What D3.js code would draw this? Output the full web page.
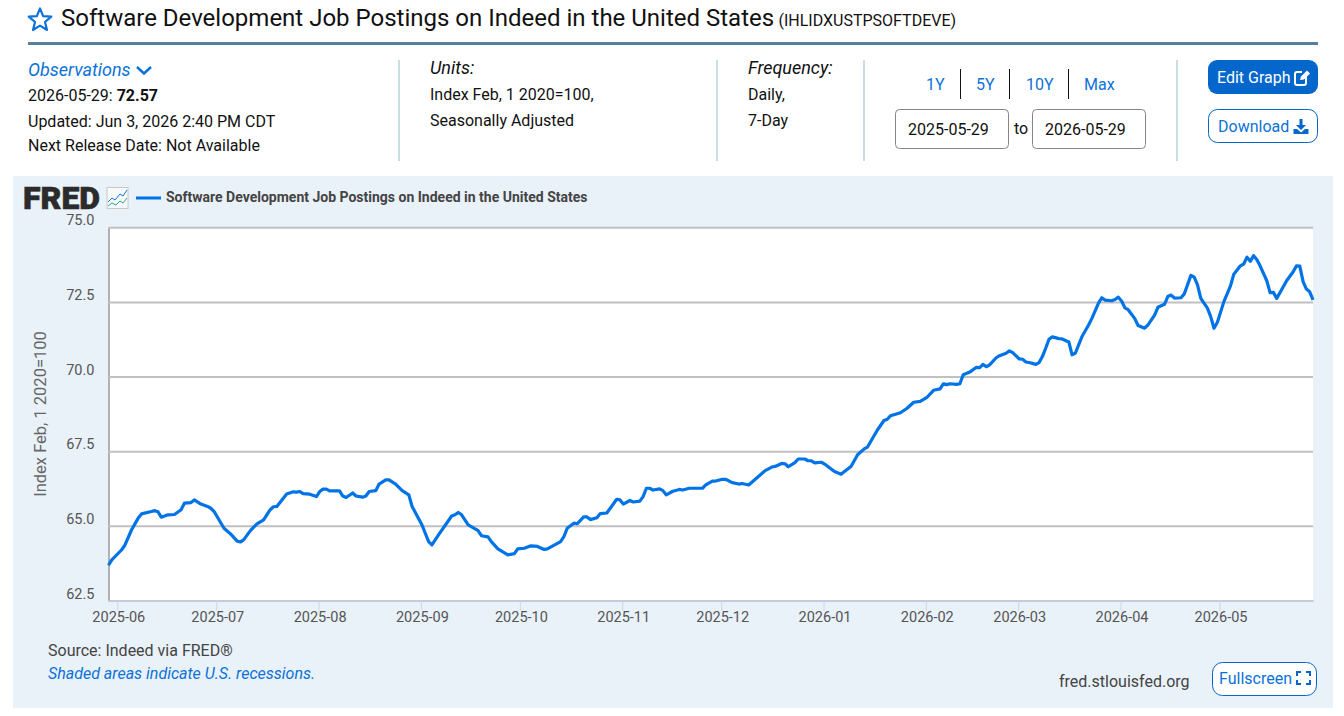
<!DOCTYPE html>
<html>
<head>
<meta charset="utf-8">
<title>Software Development Job Postings on Indeed in the United States</title>
<script src="https://cdn.jsdelivr.net/npm/d3@7"></script>
<style>
html,body{margin:0;padding:0;background:#fff;overflow:hidden;}
svg{display:block;}
text{font-family:Roboto,sans-serif;}
</style>
</head>
<body>
<script>
// days since 2025-05-29
var obsDay = [0,1,4,5,7,9,10,13,14,15,16,18,20,22,23,25,26,28,30,31,32,35,37,39,40,41,43,44,45,47,49,50,51,54,56,57,58,59,61,63,64,65,66,67,70,71,72,74,75,77,78,79,81,82,84,85,87,89,91,92,95,97,98,100,104,105,106,107,109,112,113,115,116,118,121,123,124,126,128,130,132,133,137,138,139,141,142,144,145,146,148,149,151,154,155,156,158,159,161,162,163,164,165,167,168,169,171,173,174,176,180,181,183,184,186,187,189,191,192,194,196,199,201,202,204,205,206,208,209,211,212,213,214,216,217,218,220,222,223,225,227,229,230,233,235,236,237,240,242,244,246,248,250,252,253,254,255,257,258,259,261,263,264,265,266,267,269,270,272,273,274,276,277,278,279,281,282,283,284,285,286,288,289,291,292,293,295,297,298,300,301,302,304,305,306,307,308,309,311,312,314,315,317,318,320,321,322,323,325,326,328,329,330,331,333,334,335,336,338,340,341,343,344,345,346,347,348,349,351,352,353,354,356,357,359,360,361,362,363,364,365];
var obsValue = [63.68,63.86,64.20,64.36,64.87,65.26,65.40,65.48,65.51,65.47,65.29,65.37,65.38,65.54,65.76,65.78,65.87,65.73,65.65,65.59,65.48,64.92,64.73,64.49,64.46,64.54,64.84,64.96,65.07,65.20,65.54,65.64,65.65,66.07,66.14,66.13,66.15,66.08,66.06,65.98,66.15,66.23,66.23,66.17,66.17,66.00,65.95,66.10,66.00,65.96,66.00,66.15,66.18,66.40,66.54,66.54,66.40,66.18,66.04,65.65,65.03,64.47,64.36,64.70,65.33,65.37,65.45,65.37,65.03,64.84,64.67,64.63,64.47,64.23,64.03,64.07,64.23,64.25,64.33,64.31,64.21,64.23,64.47,64.64,64.92,65.09,65.07,65.30,65.30,65.21,65.27,65.41,65.43,65.89,65.87,65.73,65.85,65.80,65.83,65.98,66.26,66.26,66.20,66.24,66.18,66.04,66.16,66.22,66.20,66.26,66.26,66.37,66.50,66.50,66.56,66.56,66.45,66.40,66.42,66.37,66.56,66.85,66.97,66.99,67.09,67.08,66.98,67.12,67.24,67.24,67.18,67.18,67.11,67.13,67.07,66.99,66.82,66.73,66.82,66.99,67.38,67.58,67.64,68.21,68.53,68.57,68.69,68.79,68.94,69.14,69.17,69.30,69.54,69.59,69.76,69.73,69.76,69.74,69.76,70.06,70.15,70.31,70.30,70.41,70.33,70.39,70.63,70.70,70.78,70.86,70.80,70.59,70.58,70.49,70.47,70.41,70.47,70.67,70.95,71.25,71.33,71.27,71.26,71.16,70.73,70.79,71.34,71.73,71.95,72.46,72.64,72.56,72.54,72.58,72.66,72.53,72.30,72.24,71.94,71.71,71.62,71.73,72.06,72.32,72.42,72.68,72.73,72.63,72.64,72.77,73.39,73.33,73.07,72.62,72.29,72.01,71.62,71.81,72.51,73.04,73.43,73.71,73.77,74.00,73.86,74.05,73.91,73.70,73.21,72.81,72.82,72.62,73.01,73.21,73.51,73.71,73.70,73.18,72.93,72.84,72.57];
var yTicks = [62.5,65,67.5,70,72.5,75];
var monthTicks = ["2025-06","2025-07","2025-08","2025-09","2025-10","2025-11","2025-12","2026-01","2026-02","2026-03","2026-04","2026-05"];
var rangeLinks = ["1Y","5Y","10Y","Max"];
var rangeX = [926,976,1026,1084];
var rangeDividers = [960.5,1009.5,1068.5];
var panelDividers = [399,717,864,1177];

var blue = "#0b72d9";
var ink = "#111";
var gray = "#444";

var svg = d3.select("body").append("svg").attr("width",1344).attr("height",716);

function label(str,x,y,size,color,extra){
    var t = svg.append("text").attr("x",x).attr("y",y).attr("font-size",size).attr("fill",color).text(str);
    if(extra){ for(var k in extra){ t.attr(k,extra[k]); } }
    return t;
}

/**** header ****/
svg.append("path")
    .attr("d","M40 8.5 L43.1 16.1 L51.3 16.7 L45 22 L47 30 L40 25.6 L33 30 L35 22 L28.7 16.7 L36.9 16.1 Z")
    .attr("fill","none").attr("stroke",blue).attr("stroke-width",2.2).attr("stroke-linejoin","round");
label("Software Development Job Postings on Indeed in the United States",61,26,24,ink);
label("(IHLIDXUSTPSOFTDEVE)",778.5,26,16,ink);
svg.append("rect").attr("x",28).attr("y",42).attr("width",1290).attr("height",3).attr("fill","#5a7f9e");

label("Observations",28,76,18,blue,{"font-style":"italic"});
svg.append("path").attr("d","M137 67 L144 73.5 L151 67").attr("fill","none").attr("stroke",blue).attr("stroke-width",2.4);
var obsLine = label("2026-05-29: ",28,101,16,ink);
obsLine.append("tspan").attr("font-weight","bold").text("72.57");
label("Updated: Jun 3, 2026 2:40 PM CDT",28,127,16,ink);
label("Next Release Date: Not Available",28,151,16,ink);

svg.selectAll("rect.divider").data(panelDividers).enter().append("rect")
    .attr("class","divider")
    .attr("x",function(d){return d-1;}).attr("y",60).attr("width",2).attr("height",101)
    .attr("fill","#c9dde5");

label("Units:",430,74,18,ink,{"font-style":"italic"});
label("Index Feb, 1 2020=100,",430,100,16,ink);
label("Seasonally Adjusted",430,126,16,ink);
label("Frequency:",748,74,18,ink,{"font-style":"italic"});
label("Daily,",748,100,16,ink);
label("7-Day",748,126,16,ink);

rangeLinks.forEach(function(d,i){ label(d,rangeX[i],90,16,blue); });
svg.selectAll("line.range").data(rangeDividers).enter().append("line")
    .attr("class","range")
    .attr("x1",function(d){return d;}).attr("x2",function(d){return d;})
    .attr("y1",69).attr("y2",99).attr("stroke","#111").attr("stroke-width",1);

[[895,908,"2025-05-29"],[1032,1045,"2026-05-29"]].forEach(function(b){
    svg.append("rect").attr("x",b[0]+0.5).attr("y",109.5).attr("width",113).attr("height",39).attr("rx",4)
        .attr("fill","#fff").attr("stroke","#858585");
    label(b[2],b[1],135,16,ink);
});
label("to",1014,134,16,ink);

svg.append("rect").attr("x",1208).attr("y",60).attr("width",110).attr("height",34).attr("rx",9).attr("fill","#0566cc");
label("Edit Graph",1217,83,16,"#fff");
svg.append("path").attr("d","M1306 73 V83 Q1306 85 1304 85 H1297 Q1295 85 1295 83 V74 Q1295 72 1297 72 H1302")
    .attr("fill","none").attr("stroke","#fff").attr("stroke-width",2);
svg.append("path").attr("d","M1300 80 L1301 76.5 L1307 70.5 L1310 73.5 L1304 79.5 Z").attr("fill","#fff");

svg.append("rect").attr("x",1208.5).attr("y",109.5).attr("width",109).attr("height",33).attr("rx",9)
    .attr("fill","#fff").attr("stroke","#0566cc");
label("Download",1218,132,16,blue);
svg.append("path").attr("d","M1299.5 119 H1302.5 V125 H1306 L1301 130 L1296 125 H1299.5 Z").attr("fill","#0566cc");
svg.append("path").attr("d","M1293.5 129 H1297 L1301 132.5 L1305 129 H1308.5 V134 H1293.5 Z").attr("fill","#0566cc");

/**** chart panel ****/
svg.append("rect").attr("x",13).attr("y",176).attr("width",1320).attr("height",532).attr("fill","#e9f1f9");

label("FRED",23,209,31,"#2b2b2b",{"font-family":"Inter, sans-serif","font-weight":900,"stroke":"#2b2b2b","stroke-width":0.6,"textLength":77,"lengthAdjust":"spacingAndGlyphs"});
svg.append("rect").attr("x",107).attr("y",187.5).attr("width",21).attr("height",21).attr("fill","#f7f9fb").attr("stroke","#c8c8c8");
svg.append("path").attr("d","M108 202 L112 198 L115 200 L120 194 L123 196 L127 190").attr("fill","none").attr("stroke","#1a73d9");
svg.append("path").attr("d","M108 206 L112 203 L116 205 L120 201 L123 203 L127 198").attr("fill","none").attr("stroke","#2ca58d");

svg.append("line").attr("x1",136).attr("x2",161).attr("y1",198).attr("y2",198).attr("stroke","#0073e6").attr("stroke-width",3);
label("Software Development Job Postings on Indeed in the United States",166,202,14,gray,{"font-weight":"bold"});

/**** plot ****/
var parseDay = d3.utcParse("%Y-%m-%d");
var parseMonth = d3.utcParse("%Y-%m");
var firstDay = parseDay("2025-05-29");
var dates = obsDay.map(function(d){ return d3.utcDay.offset(firstDay,d); });

var x = d3.scaleUtc().domain([firstDay,parseDay("2026-05-29")]).range([108.5,1313]);
var y = d3.scaleLinear().domain([62.5,75]).range([600.5,227.3]);

svg.append("rect").attr("x",108.5).attr("y",227.3).attr("width",1204.5).attr("height",373.2).attr("fill","#fff");

var yAxis = d3.axisLeft(y).tickValues(yTicks).tickFormat(d3.format(".1f")).tickSizeInner(-1204.5).tickSizeOuter(0).tickPadding(14);
var yg = svg.append("g").attr("transform","translate(108.5,0)").call(yAxis);
yg.select(".domain").attr("stroke","#999").attr("stroke-width",1.5);
yg.selectAll(".tick line").attr("stroke","#c0c0c0").attr("stroke-width",2);
yg.selectAll(".tick text")
    .attr("dy",0).attr("y",-2.5)
    .attr("font-family","'Open Sans',sans-serif").attr("font-size",14.5).attr("fill","#555");

// the site's month ticks sit a few hours ahead of midnight UTC
var tickDates = monthTicks.map(function(d){ return d3.utcHour.offset(parseMonth(d),-8); });
var xAxis = d3.axisBottom(x).tickValues(tickDates).tickFormat(d3.utcFormat("%Y-%m")).tickSizeInner(10).tickSizeOuter(0).tickPadding(1);
var xg = svg.append("g").attr("transform","translate(0,600.5)").call(xAxis);
xg.select(".domain").attr("stroke","#c4cbd8").attr("stroke-width",2);
xg.selectAll(".tick line").attr("stroke","#ccd6eb");
xg.selectAll(".tick text")
    .data(monthTicks).text(function(d){ return d; })
    .attr("dx",1)
    .attr("font-family","'Open Sans',sans-serif").attr("font-size",14.5).attr("fill","#555");

var line = d3.line()
    .x(function(d,i){ return x(dates[i]); })
    .y(function(d){ return y(d); });
svg.append("path").datum(obsValue)
    .attr("d",line)
    .attr("fill","none").attr("stroke","#0073e6").attr("stroke-width",3.2).attr("stroke-linejoin","round");

svg.append("text").attr("transform","translate(46,414) rotate(-90)").attr("text-anchor","middle")
    .attr("font-size",16.5).attr("fill","#666").text("Index Feb, 1 2020=100");

/**** footer ****/
label("Source: Indeed via FRED®",48,656,16,gray);
label("Shaded areas indicate U.S. recessions.",48,679,16,blue,{"font-style":"italic"});
label("fred.stlouisfed.org",1059,687,16,gray);
svg.append("rect").attr("x",1212.5).attr("y",662.5).attr("width",104).attr("height",33).attr("rx",10)
    .attr("fill","#fff").attr("stroke","#0566cc");
label("Fullscreen",1219,684,16,blue);
svg.append("path").attr("d","M1297 676 V672 H1301 M1306 672 H1310 V676 M1310 680 V684 H1306 M1301 684 H1297 V680")
    .attr("fill","none").attr("stroke","#0566cc").attr("stroke-width",2);
</script>
</body>
</html>
